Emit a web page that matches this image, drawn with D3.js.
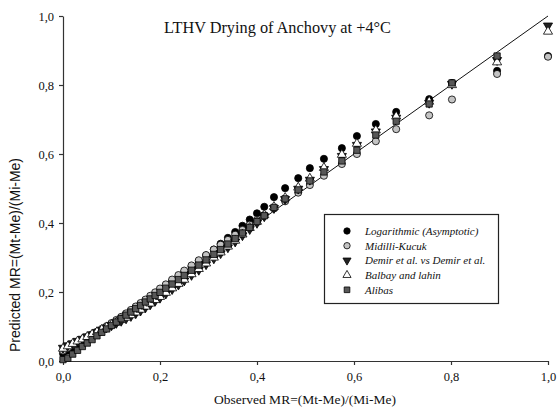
<!DOCTYPE html>
<html><head><meta charset="utf-8">
<script src="https://cdn.jsdelivr.net/npm/d3@7"></script>
<style>body{margin:0;background:#fff}svg{display:block}</style>
</head><body>
<svg id="c" width="557" height="417"></svg>
<script>
const title = "LTHV Drying of Anchovy at +4°C";
const xTitle = "Observed MR=(Mt-Me)/(Mi-Me)";
const yTitle = "Predicted MR=(Mt-Me)/(Mi-Me)";
const tickValues = [0, 0.2, 0.4, 0.6, 0.8, 1.0];
const tickLabels = ["0,0", "0,2", "0,4", "0,6", "0,8", "1,0"];
const seriesNames = ["Logarithmic (Asymptotic)", "Midilli-Kucuk", "Demir et al. vs Demir et al.", "Balbay and lahin", "Alibas"];

const observed = [0.000,0.010,0.020,0.030,0.040,0.050,0.060,0.070,0.080,0.090,0.100,0.110,0.120,0.130,0.140,0.150,0.160,0.170,0.180,0.190,0.200,0.212,0.225,0.238,0.250,0.265,0.280,0.295,0.311,0.325,0.340,0.355,0.370,0.385,0.400,0.415,0.435,0.458,0.485,0.509,0.538,0.575,0.606,0.645,0.687,0.755,0.802,0.895,1.000];

const logarithmic = [0.022,0.030,0.039,0.047,0.055,0.064,0.072,0.081,0.089,0.098,0.107,0.116,0.125,0.135,0.144,0.154,0.164,0.174,0.184,0.195,0.205,0.218,0.232,0.245,0.258,0.274,0.290,0.306,0.323,0.340,0.357,0.374,0.392,0.410,0.428,0.447,0.475,0.501,0.530,0.559,0.586,0.617,0.652,0.687,0.722,0.759,0.806,0.841,0.884];
const midilli = [0.030,0.038,0.046,0.054,0.062,0.069,0.077,0.085,0.093,0.101,0.110,0.119,0.128,0.138,0.148,0.158,0.168,0.178,0.189,0.199,0.210,0.222,0.236,0.249,0.262,0.277,0.292,0.307,0.323,0.337,0.351,0.366,0.380,0.395,0.409,0.423,0.442,0.463,0.488,0.510,0.537,0.571,0.600,0.637,0.672,0.712,0.758,0.832,0.882];
const demir = [0.038,0.045,0.051,0.058,0.064,0.071,0.077,0.084,0.090,0.097,0.103,0.110,0.116,0.123,0.130,0.138,0.146,0.155,0.164,0.174,0.183,0.195,0.208,0.221,0.233,0.249,0.264,0.280,0.297,0.312,0.329,0.346,0.364,0.382,0.400,0.419,0.443,0.469,0.499,0.525,0.556,0.594,0.626,0.665,0.705,0.748,0.803,0.872,0.972];
const balbay = [0.036,0.043,0.050,0.057,0.063,0.070,0.077,0.084,0.091,0.098,0.105,0.112,0.119,0.126,0.133,0.141,0.149,0.158,0.167,0.177,0.186,0.198,0.211,0.224,0.236,0.252,0.267,0.283,0.300,0.315,0.332,0.349,0.367,0.386,0.404,0.423,0.447,0.473,0.503,0.529,0.560,0.598,0.630,0.669,0.709,0.752,0.800,0.866,0.955];
const alibas = [0.004,0.008,0.020,0.031,0.042,0.052,0.062,0.073,0.083,0.093,0.103,0.113,0.123,0.133,0.142,0.152,0.161,0.171,0.180,0.190,0.199,0.211,0.223,0.236,0.248,0.263,0.278,0.293,0.309,0.323,0.339,0.355,0.371,0.387,0.404,0.421,0.445,0.470,0.496,0.522,0.548,0.580,0.611,0.655,0.695,0.745,0.806,0.884,null];

const seriesValues = [logarithmic, midilli, demir, balbay, alibas];
const seriesStyle = [
  {sym: d3.symbolCircle, size: 40, fill: "#000"},
  {sym: d3.symbolCircle, size: 40, fill: "#c4c4c4"},
  {sym: "down", size: 36, fill: "#222"},
  {sym: d3.symbolTriangle, size: 36, fill: "#fff"},
  {sym: d3.symbolSquare, size: 40, fill: "#585858"}
];

const svg = d3.select("#c");
const x = d3.scaleLinear().domain([0, 1]).range([63, 548]);
const y = d3.scaleLinear().domain([0, 1]).range([361, 16]);
const serif = "'Liberation Serif','Times New Roman',serif";

function symPath(st) {
  if (st.sym === "down") return d3.symbol(d3.symbolTriangle, st.size)();
  return d3.symbol(st.sym, st.size)();
}
function symTransform(st, px, py) {
  return st.sym === "down" ? `translate(${px},${py}) rotate(180)` : `translate(${px},${py})`;
}

// axes
const xAxis = d3.axisBottom(x).tickValues(tickValues).tickFormat((d,i)=>tickLabels[i]).tickSize(4).tickSizeOuter(0);
const yAxis = d3.axisLeft(y).tickValues(tickValues).tickFormat((d,i)=>tickLabels[i]).tickSize(4).tickSizeOuter(0);
const gx = svg.append("g").attr("transform", `translate(0,${y(0)})`).call(xAxis);
const gy = svg.append("g").attr("transform", `translate(${x(0)},0)`).call(yAxis);
[gx, gy].forEach(g => {
  g.attr("font-family", serif);
  g.select(".domain").attr("stroke", "#333").attr("stroke-width", 1.2);
  g.selectAll(".tick line").attr("stroke", "#333").attr("stroke-width", 1.2);
  g.selectAll(".tick text").attr("font-family", serif).attr("font-size", 12.5).attr("fill", "#111");
});
gx.selectAll(".tick text").attr("dy", "1.15em").attr("y", 6);
gy.selectAll(".tick text").attr("x", -9);

// diagonal reference line y = x
svg.append("line")
  .attr("x1", x(0)).attr("y1", y(0)).attr("x2", x(1)).attr("y2", y(1))
  .attr("stroke", "#111").attr("stroke-width", 1);

// data points
seriesValues.forEach((vals, si) => {
  const st = seriesStyle[si];
  const pts = observed.map((d, i) => [d, vals[i]]).filter(p => p[1] != null);
  svg.append("g").selectAll("path").data(pts).join("path")
    .attr("d", symPath(st))
    .attr("transform", p => symTransform(st, x(p[0]), y(p[1])))
    .attr("fill", st.fill).attr("stroke", "#000").attr("stroke-width", 0.8);
});

// title
svg.append("text").attr("x", 164).attr("y", 33).attr("font-family", serif).attr("font-size", 16.3).attr("fill", "#111").text(title);
// axis titles
svg.append("text").attr("x", 305).attr("y", 404).attr("text-anchor", "middle").attr("font-family", serif).attr("font-size", 13.5).attr("fill", "#111").text(xTitle);
svg.append("text").attr("transform", "translate(20,255) rotate(-90)").attr("text-anchor", "middle")
  .attr("font-family", "'Liberation Sans',Arial,sans-serif").attr("font-size", 14).attr("fill", "#111").text(yTitle);

// legend
const lg = svg.append("g");
lg.append("rect").attr("x", 324.5).attr("y", 214.5).attr("width", 174).attr("height", 89)
  .attr("fill", "#fff").attr("stroke", "#222").attr("stroke-width", 1.2);
seriesNames.forEach((name, i) => {
  const st = seriesStyle[i];
  const ry = 231 + i * 14.7;
  lg.append("path").attr("d", symPath({...st, size: st.size * 0.8}))
    .attr("transform", symTransform(st, 347, ry))
    .attr("fill", st.fill).attr("stroke", "#000").attr("stroke-width", 0.8);
  lg.append("text").attr("x", 365).attr("y", ry + 4).attr("font-family", serif).attr("font-style", "italic")
    .attr("font-size", 11).attr("fill", "#111").text(name);
});
</script>
</body></html>
